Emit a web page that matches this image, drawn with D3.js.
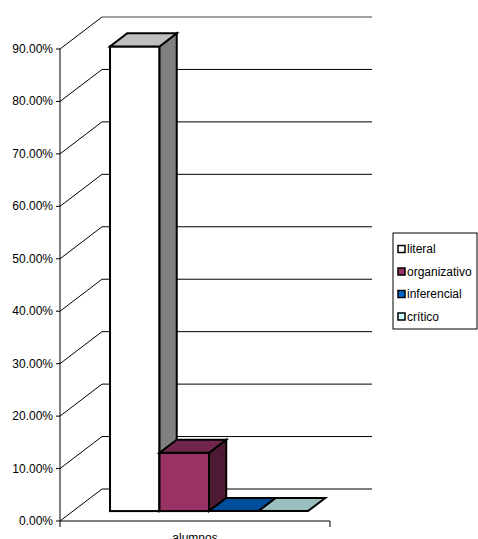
<!doctype html>
<html>
<head>
<meta charset="utf-8">
<title>alumnos</title>
<script src="https://d3js.org/d3.v7.min.js"></script>
<style>
  body { margin:0; background:#fff; }
  text { font-family:"Liberation Sans", Arial, sans-serif; font-size:12px; fill:#000; }
</style>
</head>
<body>
<svg></svg>
<script>
// data
let categories = ['alumnos'];
let seriesNames = ['literal', 'organizativo', 'inferencial', 'crítico'];
let seriesValues = [0.886, 0.111, 0, 0];
let seriesColors = ['#ffffff', '#993366', '#0066cc', '#ccffff'];
let yTicks = [0, 0.1, 0.2, 0.3, 0.4, 0.5, 0.6, 0.7, 0.8, 0.9];

let w = 478, h = 539;
let depthX = 42, depthY = -32;      // wall depth
let barF0 = 0.31, barF1 = 0.72;     // bar front/back as a fraction of depth

let svg = d3.select('svg').attr('width', w).attr('height', h);

let y = d3.scaleLinear().domain([0, 0.9]).range([521, 49]);
let xCat = d3.scaleBand().domain(categories).range([60, 330]);
let fmt = d3.format('.2%');

function shade(c, k) {
  let r = d3.rgb(c);
  return d3.rgb(r.r * k, r.g * k, r.b * k).formatHex();
}

// back wall gridlines and side diagonals
let grid = svg.append('g');
yTicks.forEach(function(t) {
  grid.append('line')
      .attr('x1', 60).attr('y1', y(t))
      .attr('x2', 60 + depthX).attr('y2', y(t) + depthY)
      .attr('stroke', '#000').attr('stroke-width', 1);
  grid.append('line')
      .attr('x1', 60 + depthX).attr('y1', y(t) + depthY)
      .attr('x2', 372).attr('y2', y(t) + depthY)
      .attr('stroke', t === 0.9 ? '#808080' : '#000')
      .attr('stroke-width', t === 0.9 ? 1.5 : 1);
});

// bars
let ddx = (barF1 - barF0) * depthX, ddy = (barF1 - barF0) * depthY;
categories.forEach(function(c) {
  let xSer = d3.scaleBand().domain(seriesNames)
               .range([xCat(c) + 37 + barF0 * depthX, xCat(c) + xCat.bandwidth() - 35 + barF0 * depthX]);
  let bw = xSer.bandwidth();
  seriesNames.forEach(function(s, i) {
    let g = svg.append('g')
               .attr('stroke', '#000').attr('stroke-width', 2).attr('stroke-linejoin', 'miter');
    let x0 = xSer(s);
    let yTop = y(seriesValues[i]) + barF0 * depthY;
    let yBot = y(0) + barF0 * depthY;
    let col = seriesColors[i];
    if (yBot - yTop > 0.5) {
      g.append('rect')
       .attr('x', x0).attr('y', yTop)
       .attr('width', bw).attr('height', yBot - yTop)
       .attr('fill', col);
      g.append('polygon')
       .attr('points', [[x0 + bw, yTop], [x0 + bw + ddx, yTop + ddy], [x0 + bw + ddx, yBot + ddy], [x0 + bw, yBot]].join(' '))
       .attr('fill', shade(col, 0.5));
    }
    g.append('polygon')
     .attr('points', [[x0, yTop], [x0 + bw, yTop], [x0 + bw + ddx, yTop + ddy], [x0 + ddx, yTop + ddy]].join(' '))
     .attr('fill', shade(col, 0.75));
  });
});

// value axis
let ax = svg.append('g');
ax.append('line').attr('x1', 60).attr('x2', 60).attr('y1', y(0.9)).attr('y2', y(0))
  .attr('stroke', '#000');
yTicks.forEach(function(t) {
  ax.append('line').attr('x1', 56).attr('x2', 60).attr('y1', y(t)).attr('y2', y(t))
    .attr('stroke', '#000');
  ax.append('text').attr('x', 53).attr('y', y(t) + 4)
    .attr('text-anchor', 'end').text(fmt(t));
});

// category axis
ax.append('line').attr('x1', 60).attr('x2', 330).attr('y1', y(0)).attr('y2', y(0))
  .attr('stroke', '#000');
[60, 330].forEach(function(xx) {
  ax.append('line').attr('x1', xx).attr('x2', xx).attr('y1', y(0)).attr('y2', y(0) + 6)
    .attr('stroke', '#000');
});
categories.forEach(function(c) {
  ax.append('text').attr('x', xCat(c) + xCat.bandwidth() / 2).attr('y', 542)
    .attr('text-anchor', 'middle').text(c);
});

// legend
let lg = svg.append('g').attr('transform', 'translate(393,233)');
lg.append('rect').attr('width', 84).attr('height', 96)
  .attr('fill', '#fff').attr('stroke', '#000');
seriesNames.forEach(function(s, i) {
  let cy = 16 + i * 22.5;
  lg.append('rect').attr('x', 5).attr('y', cy - 3.5).attr('width', 7).attr('height', 7)
    .attr('fill', seriesColors[i]).attr('stroke', '#000').attr('stroke-width', 1.5);
  lg.append('text').attr('x', 14).attr('y', cy + 4).text(s);
});
</script>
</body>
</html>
